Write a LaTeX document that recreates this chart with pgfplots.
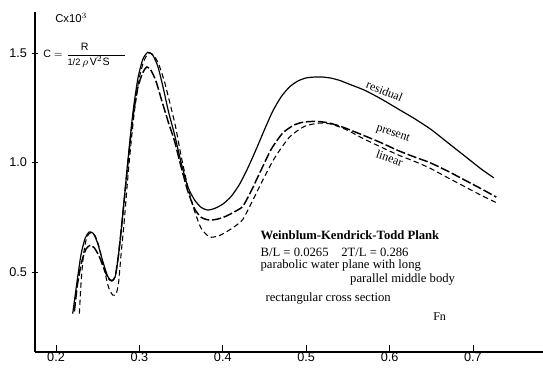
\documentclass[border=0pt]{standalone}
\usepackage{pgfplots}
\pgfplotsset{compat=1.18}
\usepackage{fontspec}
\setmainfont{Liberation Serif}
\setsansfont{Liberation Sans}
\pgfplotstableread{
x y
0.220 0.31
0.225 0.45
0.230 0.58
0.235 0.655
0.240 0.683
0.245 0.675
0.250 0.63
0.256 0.55
0.262 0.48
0.267 0.46
0.271 0.48
0.275 0.58
0.280 0.76
0.286 1.00
0.292 1.22
0.298 1.38
0.304 1.47
0.310 1.503
0.316 1.49
0.322 1.44
0.328 1.35
0.335 1.23
0.342 1.13
0.350 1.00
0.358 0.89
0.366 0.83
0.374 0.795
0.382 0.783
0.390 0.79
0.400 0.81
0.410 0.845
0.420 0.90
0.430 0.975
0.440 1.06
0.450 1.15
0.460 1.235
0.470 1.30
0.480 1.345
0.490 1.372
0.500 1.386
0.510 1.39
0.520 1.39
0.530 1.385
0.540 1.375
0.550 1.36
0.570 1.33
0.590 1.29
0.610 1.245
0.630 1.20
0.650 1.15
0.670 1.09
0.690 1.03
0.710 0.97
0.725 0.93
}\residual
\pgfplotstableread{
x y
0.222 0.32
0.226 0.45
0.231 0.55
0.236 0.605
0.241 0.622
0.246 0.61
0.252 0.57
0.258 0.51
0.263 0.47
0.267 0.46
0.271 0.48
0.275 0.58
0.280 0.76
0.286 0.99
0.292 1.20
0.298 1.34
0.304 1.41
0.309 1.436
0.314 1.42
0.320 1.37
0.327 1.28
0.335 1.18
0.342 1.10
0.350 0.98
0.358 0.87
0.366 0.79
0.374 0.75
0.384 0.737
0.394 0.742
0.404 0.755
0.414 0.775
0.424 0.80
0.434 0.87
0.444 0.95
0.458 1.06
0.472 1.135
0.485 1.17
0.495 1.183
0.505 1.187
0.515 1.187
0.528 1.18
0.545 1.16
0.568 1.125
0.590 1.09
0.610 1.055
0.630 1.025
0.648 1.00
0.670 0.96
0.690 0.92
0.710 0.88
0.728 0.842
}\present
\pgfplotstableread{
x y
0.228 0.31
0.230 0.45
0.233 0.58
0.237 0.66
0.242 0.68
0.247 0.665
0.252 0.61
0.258 0.51
0.263 0.43
0.268 0.395
0.272 0.40
0.275 0.45
0.278 0.58
0.282 0.74
0.287 0.97
0.293 1.20
0.299 1.37
0.305 1.46
0.311 1.50
0.317 1.49
0.323 1.45
0.330 1.37
0.336 1.28
0.343 1.17
0.350 1.03
0.358 0.89
0.366 0.78
0.374 0.70
0.384 0.66
0.395 0.665
0.405 0.685
0.415 0.71
0.424 0.74
0.435 0.82
0.448 0.92
0.462 1.02
0.480 1.116
0.498 1.165
0.516 1.18
0.530 1.175
0.548 1.15
0.568 1.11
0.590 1.07
0.610 1.035
0.630 1.005
0.648 0.975
0.670 0.93
0.690 0.89
0.710 0.85
0.729 0.815
}\linear
\begin{document}
\begin{tikzpicture}
\begin{axis}[
  at={(26.25pt,14.25pt)}, anchor=south west,
  scale only axis, width=381pt, height=255pt,
  xmin=0.1748, xmax=0.784, ymin=0.135, ymax=1.687,
  axis lines=left, axis line style={-, line width=0.8pt},
  xtick={0.2,0.3,0.4,0.5,0.6,0.7},
  xticklabels={0.2,0.3,0.4,0.5,0.6,0.7},
  ytick={0.5,1.0,1.5},
  yticklabels={0.5,1.0,1.5},
  tick style={black, line width=0.6pt},
  xtick align=inside, ytick align=center, major tick length=5pt,
  ticklabel style={font=\fontsize{9.5}{11}\selectfont\sffamily},
  xticklabel style={yshift=1pt, inner sep=1.5pt},
  clip=false,
]
\addplot[black, line width=0.9pt, smooth, tension=0.4] table {\residual};
\addplot[black, line width=1.1pt, smooth, tension=0.4, dash pattern=on 7pt off 2pt] table {\present};
\addplot[black, line width=0.8pt, smooth, tension=0.4, dash pattern=on 4pt off 2.5pt] table {\linear};

\node[rotate=-22, font=\fontsize{9}{10}\selectfont] at (axis cs:0.594,1.325) {residual};
\node[rotate=-19, font=\fontsize{9}{10}\selectfont] at (axis cs:0.604,1.13) {present};
\node[rotate=-19, font=\fontsize{9}{10}\selectfont] at (axis cs:0.600,1.02) {linear};

\node[anchor=west, font=\fontsize{9.5}{11}\selectfont\bfseries, inner sep=0pt] at (axis cs:0.445,0.669) {Weinblum-Kendrick-Todd Plank};
\node[anchor=west, font=\fontsize{9.5}{11}\selectfont, inner sep=0pt] at (axis cs:0.445,0.591) {B/L = 0.0265\quad 2T/L = 0.286};
\node[anchor=west, font=\fontsize{9.5}{11}\selectfont, inner sep=0pt] at (axis cs:0.445,0.532) {parabolic water plane with long};
\node[anchor=west, font=\fontsize{9.5}{11}\selectfont, inner sep=0pt] at (axis cs:0.5525,0.468) {parallel middle body};
\node[anchor=west, font=\fontsize{9.5}{11}\selectfont, inner sep=0pt] at (axis cs:0.451,0.381) {rectangular cross section};

\node[font=\fontsize{9}{10}\selectfont] at (axis cs:0.660,0.295) {Fn};
\node[anchor=west, font=\fontsize{8.5}{10}\selectfont\sffamily, inner sep=0pt] at (axis cs:0.1988,1.66) {Cx10$^3$};
\node[anchor=west, font=\fontsize{8}{10}\selectfont\sffamily, inner sep=0pt] at (axis cs:0.1844,1.49)
  {C $=\displaystyle\frac{\makebox[43pt][l]{\hspace{10pt}\textsf{R}}}{\makebox[43pt][l]{\textsf{\scriptsize 1/2}\,$\rho$\,\textsf{V}$^{2}$\textsf{S}}}$};
\end{axis}
\pgfresetboundingbox
\path[use as bounding box] (0,0) rectangle (407.25pt,278.25pt);
\end{tikzpicture}
\end{document}
